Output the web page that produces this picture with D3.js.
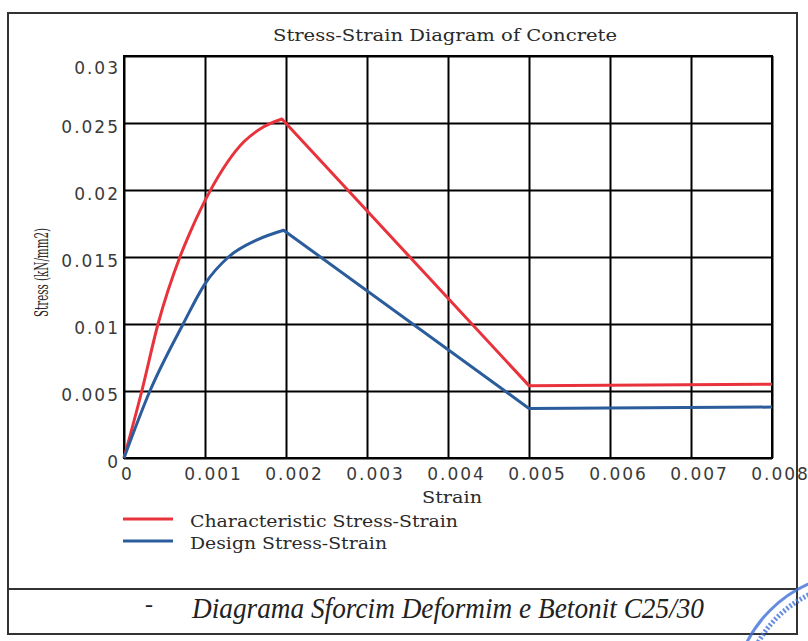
<!DOCTYPE html>
<html>
<head>
<meta charset="utf-8">
<script src="https://d3js.org/d3.v7.min.js"></script>
<style>
  body { margin: 0; background: #fff; }
  svg { display: block; }
  .tick-label { font-family: "DejaVu Sans", Verdana, sans-serif; font-size: 17px; fill: #3a3a3a; letter-spacing: 2px; }
  .serif { font-family: "DejaVu Serif", serif; fill: #2a2a2a; }
</style>
</head>
<body>
<div id="chart"></div>
<script>
// axis ticks
var strainTicks = [0, 0.001, 0.002, 0.003, 0.004, 0.005, 0.006, 0.007, 0.008];
var stressTicks = [0, 0.005, 0.01, 0.015, 0.02, 0.025, 0.03];

// characteristic curve
var charStrain = [0, 0.00022, 0.00042, 0.00069, 0.00082, 0.00106, 0.00148, 0.00172, 0.00195, 0.005, 0.008];
var charStress = [0, 0.005, 0.01, 0.015, 0.0169, 0.0199, 0.0236, 0.0247, 0.0253, 0.0054, 0.0055];

// design curve
var designStrain = [0, 0.00032, 0.00073, 0.001, 0.00129, 0.00165, 0.00197, 0.005, 0.008];
var designStress = [0, 0.005, 0.01, 0.013, 0.015, 0.0163, 0.017, 0.0037, 0.0038];

var seriesNames = ["Characteristic Stress-Strain", "Design Stress-Strain"];
var seriesColors = ["#e8333d", "#2b5c9c"];

var W = 808, H = 641;
// plot box (don't call it "top", that's window.top)
var pLeft = 124, pRight = 772, pTop = 56, pBottom = 458;

var svg = d3.select("#chart").append("svg")
  .attr("width", W)
  .attr("height", H);

var x = d3.scaleLinear().domain([0, 0.008]).range([pLeft, pRight]);
var y = d3.scaleLinear().domain([0, 0.03]).range([pBottom, pTop]);

// outer frame of the page box
svg.append("rect")
  .attr("x", 8).attr("y", 13)
  .attr("width", 789).attr("height", 621)
  .attr("fill", "none")
  .attr("stroke", "#333")
  .attr("stroke-width", 2);
svg.append("line")
  .attr("x1", 8).attr("x2", 797)
  .attr("y1", 589).attr("y2", 589)
  .attr("stroke", "#333")
  .attr("stroke-width", 2);

// grid + x labels
var gx = svg.append("g")
  .attr("transform", "translate(0," + pBottom + ")")
  .call(d3.axisBottom(x)
    .tickValues(strainTicks)
    .tickSize(-(pBottom - pTop))
    .tickFormat(d3.format("")));
gx.select(".domain").remove();
gx.selectAll("line").attr("stroke", "#000").attr("stroke-width", 2);
gx.selectAll("text")
  .attr("class", "tick-label")
  .attr("y", 22)
  .attr("dy", 0)
  .attr("dx", function(d) { return d === 0 ? 3 : 8; });

// grid + y labels
var gy = svg.append("g")
  .attr("transform", "translate(" + pLeft + ",0)")
  .call(d3.axisLeft(y)
    .tickValues(stressTicks)
    .tickSize(-(pRight - pLeft))
    .tickFormat(d3.format("")));
gy.select(".domain").remove();
gy.selectAll("line").attr("stroke", "#000").attr("stroke-width", 2);
gy.selectAll("text")
  .attr("class", "tick-label")
  .attr("x", -4)
  .attr("dy", 0)
  .attr("y", function(d) { return d === 0.03 ? 17 : 9.5; });

// plot border
svg.append("rect")
  .attr("x", pLeft).attr("y", pTop)
  .attr("width", pRight - pLeft).attr("height", pBottom - pTop)
  .attr("fill", "none")
  .attr("stroke", "#000")
  .attr("stroke-width", 2);

// curves: smooth up to the peak, straight lines after it
var smoothLine = d3.line()
  .curve(d3.curveMonotoneX)
  .x(function(d) { return x(d[0]); })
  .y(function(d) { return y(d[1]); });
var straightLine = d3.line()
  .x(function(d) { return x(d[0]); })
  .y(function(d) { return y(d[1]); });

[d3.zip(charStrain, charStress), d3.zip(designStrain, designStress)].forEach(function(pts, i) {
  var peak = d3.maxIndex(pts, function(d) { return d[1]; });
  svg.append("path")
    .attr("fill", "none")
    .attr("stroke", seriesColors[i])
    .attr("stroke-width", 3)
    .attr("stroke-linejoin", "round")
    .attr("d", smoothLine(pts.slice(0, peak + 1)) + straightLine(pts.slice(peak)).replace(/^M/, "L"));
});

// titles
svg.append("text")
  .attr("class", "serif")
  .attr("x", 273).attr("y", 41)
  .attr("font-size", 16)
  .attr("textLength", 344)
  .attr("lengthAdjust", "spacingAndGlyphs")
  .text("Stress-Strain Diagram of Concrete");

svg.append("text")
  .attr("class", "serif")
  .attr("x", 422).attr("y", 503)
  .attr("font-size", 16)
  .attr("textLength", 60)
  .attr("lengthAdjust", "spacingAndGlyphs")
  .text("Strain");

svg.append("text")
  .attr("class", "serif")
  .attr("transform", "translate(48,317) rotate(-90)")
  .attr("font-size", 19)
  .attr("textLength", 89)
  .attr("lengthAdjust", "spacingAndGlyphs")
  .text("Stress (kN/mm2)");

// legend
var legendY = [519, 541];
var legendLen = [268, 197];
seriesNames.forEach(function(name, i) {
  svg.append("line")
    .attr("x1", 123).attr("x2", 173)
    .attr("y1", legendY[i]).attr("y2", legendY[i])
    .attr("stroke", seriesColors[i])
    .attr("stroke-width", 3);
  svg.append("text")
    .attr("class", "serif")
    .attr("x", 190).attr("y", legendY[i] + 8)
    .attr("font-size", 16)
    .attr("textLength", legendLen[i])
    .attr("lengthAdjust", "spacingAndGlyphs")
    .text(name);
});

// caption under the chart
svg.append("text")
  .attr("x", 145).attr("y", 612)
  .attr("font-family", "'Liberation Serif', 'Times New Roman', serif")
  .attr("font-size", 24)
  .attr("fill", "#222")
  .text("-");
svg.append("text")
  .attr("x", 192).attr("y", 618)
  .attr("font-family", "'Liberation Serif', 'Times New Roman', serif")
  .attr("font-style", "italic")
  .attr("font-size", 29)
  .attr("fill", "#222")
  .attr("textLength", 512)
  .attr("lengthAdjust", "spacingAndGlyphs")
  .text("Diagrama Sforcim Deformim e Betonit C25/30");

// bit of the blue stamp in the corner
[127, 117].forEach(function(r, i) {
  svg.append("circle")
    .attr("cx", 860).attr("cy", 700)
    .attr("r", r)
    .attr("fill", "none")
    .attr("stroke", "#3f6fd6")
    .attr("stroke-width", i === 0 ? 3 : 5)
    .attr("stroke-dasharray", i === 0 ? "none" : "2,2")
    .attr("opacity", 0.8);
});
</script>
</body>
</html>
